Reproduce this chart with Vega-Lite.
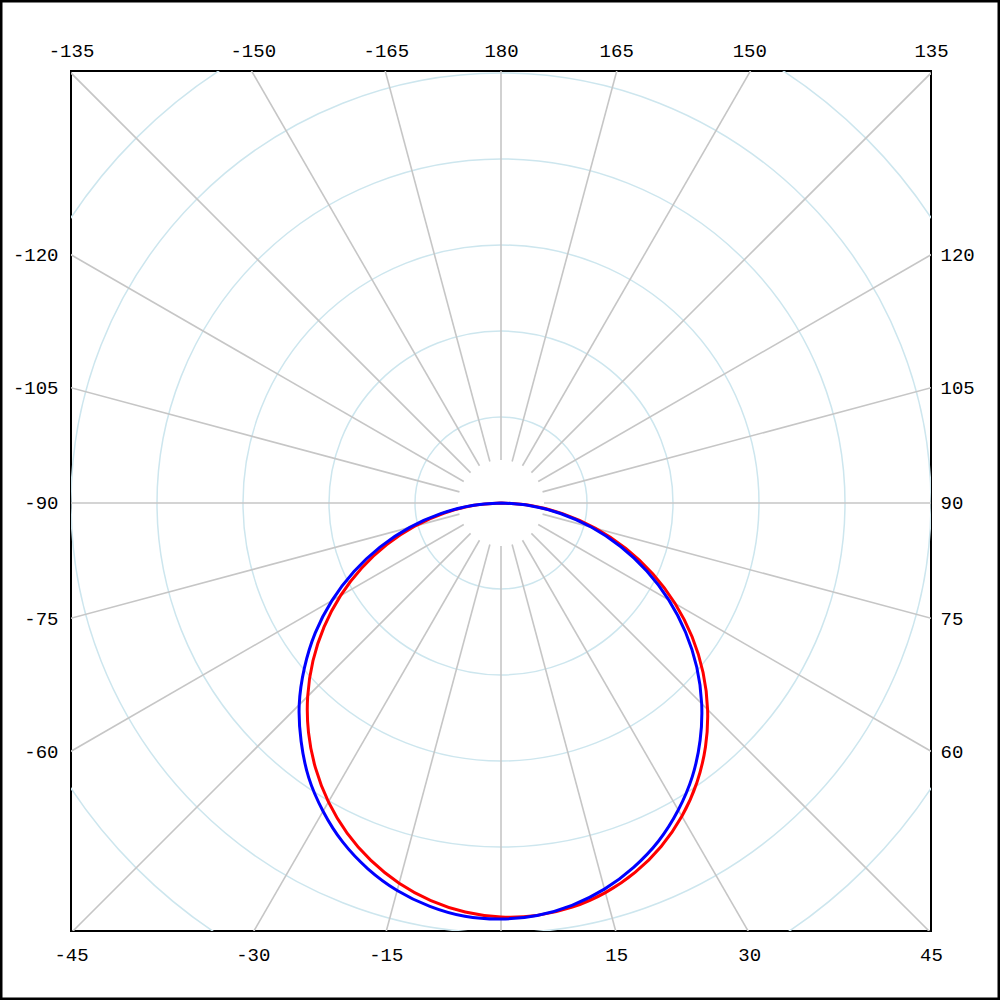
{
  "$schema": "https://vega.github.io/schema/vega-lite/v6.json",
  "width": 860,
  "height": 860,
  "autosize": {"type": "none"},
  "padding": {"left": 71, "top": 71, "right": 69, "bottom": 69},
  "background": "white",
  "config": {
    "view": {"stroke": "black", "strokeWidth": 2},
    "axis": {"ticks": false, "domain": false, "grid": false, "labelFont": "Liberation Mono", "labelFontSize": 19, "labelColor": "black", "labelFlush": false, "labelOverlap": false, "labelBound": false}
  },
  "datasets": {
    "curves": [
      {"series": "red", "angle": -90, "intensity": 0},
      {"series": "red", "angle": -85, "intensity": 15.67},
      {"series": "red", "angle": -80, "intensity": 33.46},
      {"series": "red", "angle": -75, "intensity": 51.96},
      {"series": "red", "angle": -70, "intensity": 70.68},
      {"series": "red", "angle": -65, "intensity": 89.35},
      {"series": "red", "angle": -60, "intensity": 107.72},
      {"series": "red", "angle": -55, "intensity": 125.57},
      {"series": "red", "angle": -50, "intensity": 142.7},
      {"series": "red", "angle": -45, "intensity": 158.94},
      {"series": "red", "angle": -40, "intensity": 174.12},
      {"series": "red", "angle": -35, "intensity": 188.06},
      {"series": "red", "angle": -30, "intensity": 200.65},
      {"series": "red", "angle": -25, "intensity": 211.71},
      {"series": "red", "angle": -20, "intensity": 221.16},
      {"series": "red", "angle": -15, "intensity": 228.86},
      {"series": "red", "angle": -10, "intensity": 234.74},
      {"series": "red", "angle": -5, "intensity": 238.71},
      {"series": "red", "angle": 0, "intensity": 240.7},
      {"series": "red", "angle": 5, "intensity": 240.67},
      {"series": "red", "angle": 10, "intensity": 238.62},
      {"series": "red", "angle": 15, "intensity": 234.52},
      {"series": "red", "angle": 20, "intensity": 228.4},
      {"series": "red", "angle": 25, "intensity": 220.31},
      {"series": "red", "angle": 30, "intensity": 210.31},
      {"series": "red", "angle": 35, "intensity": 198.5},
      {"series": "red", "angle": 40, "intensity": 184.96},
      {"series": "red", "angle": 45, "intensity": 169.86},
      {"series": "red", "angle": 50, "intensity": 153.36},
      {"series": "red", "angle": 55, "intensity": 135.63},
      {"series": "red", "angle": 60, "intensity": 116.86},
      {"series": "red", "angle": 65, "intensity": 97.31},
      {"series": "red", "angle": 70, "intensity": 77.22},
      {"series": "red", "angle": 75, "intensity": 56.9},
      {"series": "red", "angle": 80, "intensity": 36.7},
      {"series": "red", "angle": 85, "intensity": 17.21},
      {"series": "red", "angle": 90, "intensity": 0},
      {"series": "blue", "angle": -90, "intensity": 0},
      {"series": "blue", "angle": -85, "intensity": 16.8},
      {"series": "blue", "angle": -80, "intensity": 35.6},
      {"series": "blue", "angle": -75, "intensity": 55.2},
      {"series": "blue", "angle": -70, "intensity": 74.9},
      {"series": "blue", "angle": -65, "intensity": 94.3},
      {"series": "blue", "angle": -60, "intensity": 113.5},
      {"series": "blue", "angle": -55, "intensity": 131.9},
      {"series": "blue", "angle": -50, "intensity": 149.2},
      {"series": "blue", "angle": -45, "intensity": 165.9},
      {"series": "blue", "angle": -40, "intensity": 180.8},
      {"series": "blue", "angle": -35, "intensity": 194.9},
      {"series": "blue", "angle": -30, "intensity": 206.9},
      {"series": "blue", "angle": -25, "intensity": 217.6},
      {"series": "blue", "angle": -20, "intensity": 226.3},
      {"series": "blue", "angle": -15, "intensity": 233.2},
      {"series": "blue", "angle": -10, "intensity": 238.1},
      {"series": "blue", "angle": -5, "intensity": 241.2},
      {"series": "blue", "angle": 0, "intensity": 241.9},
      {"series": "blue", "angle": 5, "intensity": 240.7},
      {"series": "blue", "angle": 10, "intensity": 237.5},
      {"series": "blue", "angle": 15, "intensity": 232.4},
      {"series": "blue", "angle": 20, "intensity": 225.4},
      {"series": "blue", "angle": 25, "intensity": 216.8},
      {"series": "blue", "angle": 30, "intensity": 206.1},
      {"series": "blue", "angle": 35, "intensity": 194.0},
      {"series": "blue", "angle": 40, "intensity": 180.1},
      {"series": "blue", "angle": 45, "intensity": 165.0},
      {"series": "blue", "angle": 50, "intensity": 148.6},
      {"series": "blue", "angle": 55, "intensity": 131.0},
      {"series": "blue", "angle": 60, "intensity": 112.6},
      {"series": "blue", "angle": 65, "intensity": 93.5},
      {"series": "blue", "angle": 70, "intensity": 74.0},
      {"series": "blue", "angle": 75, "intensity": 54.5},
      {"series": "blue", "angle": 80, "intensity": 35.1},
      {"series": "blue", "angle": 85, "intensity": 16.4},
      {"series": "blue", "angle": 90, "intensity": 0}
    ],
    "rings": [
      {"ring": 50}, {"ring": 100}, {"ring": 150}, {"ring": 200}, {"ring": 250}, {"ring": 300}
    ],
    "spokes": [
      {"angle": -165, "r0": 25, "r1": 400}, {"angle": -150, "r0": 25, "r1": 400}, {"angle": -135, "r0": 25, "r1": 400},
      {"angle": -120, "r0": 25, "r1": 400}, {"angle": -105, "r0": 25, "r1": 400}, {"angle": -90, "r0": 25, "r1": 400},
      {"angle": -75, "r0": 25, "r1": 400}, {"angle": -60, "r0": 25, "r1": 400}, {"angle": -45, "r0": 25, "r1": 400},
      {"angle": -30, "r0": 25, "r1": 400}, {"angle": -15, "r0": 25, "r1": 400}, {"angle": 0, "r0": 25, "r1": 400},
      {"angle": 15, "r0": 25, "r1": 400}, {"angle": 30, "r0": 25, "r1": 400}, {"angle": 45, "r0": 25, "r1": 400},
      {"angle": 60, "r0": 25, "r1": 400}, {"angle": 75, "r0": 25, "r1": 400}, {"angle": 90, "r0": 25, "r1": 400},
      {"angle": 105, "r0": 25, "r1": 400}, {"angle": 120, "r0": 25, "r1": 400}, {"angle": 135, "r0": 25, "r1": 400},
      {"angle": 150, "r0": 25, "r1": 400}, {"angle": 165, "r0": 25, "r1": 400}, {"angle": 180, "r0": 25, "r1": 400}
    ],
    "frame": [{"name": "border"}]
  },
  "layer": [
    {
      "data": {"name": "rings"},
      "mark": {"type": "arc", "theta": 0, "theta2": 6.2832, "filled": false, "stroke": "#cde6ee", "strokeWidth": 1.5, "clip": true},
      "encoding": {
        "x": {"datum": 0, "type": "quantitative", "scale": {"domain": [-250, 250], "nice": false, "zero": false}, "axis": null},
        "y": {"datum": 0, "type": "quantitative", "scale": {"domain": [-248.84, 251.16], "nice": false, "zero": false}, "axis": null},
        "radius": {"field": "ring", "type": "quantitative", "stack": null, "scale": {"type": "linear", "domain": [0, 250], "zero": true}}
      }
    },
    {
      "data": {"name": "spokes"},
      "transform": [
        {"calculate": "datum.r0*sin(datum.angle*PI/180)", "as": "xa"},
        {"calculate": "-datum.r0*cos(datum.angle*PI/180)", "as": "ya"},
        {"calculate": "datum.r1*sin(datum.angle*PI/180)", "as": "xb"},
        {"calculate": "-datum.r1*cos(datum.angle*PI/180)", "as": "yb"}
      ],
      "mark": {"type": "rule", "stroke": "#c6c6c6", "strokeWidth": 1.6, "clip": true},
      "encoding": {
        "x": {"field": "xa", "type": "quantitative", "scale": {"domain": [-250, 250], "nice": false, "zero": false}, "axis": null},
        "y": {"field": "ya", "type": "quantitative", "scale": {"domain": [-248.84, 251.16], "nice": false, "zero": false}, "axis": null},
        "x2": {"field": "xb"},
        "y2": {"field": "yb"}
      }
    },
    {
      "data": {"name": "curves"},
      "transform": [
        {"filter": "datum.series == 'red'"},
        {"calculate": "datum.intensity*sin(datum.angle*PI/180)", "as": "px"},
        {"calculate": "-datum.intensity*cos(datum.angle*PI/180)", "as": "py"}
      ],
      "mark": {"type": "line", "stroke": "#ff0000", "strokeWidth": 3, "interpolate": "catmull-rom"},
      "encoding": {
        "x": {"field": "px", "type": "quantitative", "scale": {"domain": [-250, 250], "nice": false, "zero": false},
          "axis": {"orient": "bottom", "title": null, "values": [-250, -144.34, -66.99, 66.99, 144.34, 250], "labelPadding": 14,
            "labelExpr": "round(atan(datum.value/250)*180/PI)"}},
        "y": {"field": "py", "type": "quantitative", "scale": {"domain": [-248.84, 251.16], "nice": false, "zero": false},
          "axis": {"orient": "left", "title": null, "values": [-144.34, -66.99, 0, 66.99, 144.34], "labelPadding": 13,
            "labelExpr": "-(90 + round(atan(datum.value/250)*180/PI))"}},
        "order": {"field": "angle", "type": "quantitative"}
      }
    },
    {
      "data": {"name": "curves"},
      "transform": [
        {"filter": "datum.series == 'blue'"},
        {"calculate": "datum.intensity*sin(datum.angle*PI/180)", "as": "px"},
        {"calculate": "-datum.intensity*cos(datum.angle*PI/180)", "as": "py"}
      ],
      "mark": {"type": "line", "stroke": "#0000ff", "strokeWidth": 3, "interpolate": "catmull-rom"},
      "encoding": {
        "x": {"field": "px", "type": "quantitative", "scale": {"domain": [-250, 250], "nice": false, "zero": false},
          "axis": {"orient": "top", "title": null, "values": [-250, -144.34, -66.99, 0, 66.99, 144.34, 250], "labelPadding": 11,
            "labelExpr": "datum.value < 0 ? -180 - round(atan(datum.value/250)*180/PI) : 180 - round(atan(datum.value/250)*180/PI)"}},
        "y": {"field": "py", "type": "quantitative", "scale": {"domain": [-248.84, 251.16], "nice": false, "zero": false},
          "axis": {"orient": "right", "title": null, "values": [-144.34, -66.99, 0, 66.99, 144.34], "labelPadding": 9,
            "labelExpr": "90 + round(atan(datum.value/250)*180/PI)"}},
        "order": {"field": "angle", "type": "quantitative"}
      }
    },
    {
      "data": {"name": "frame"},
      "mark": {"type": "rect", "filled": false, "stroke": "black", "strokeWidth": 5, "clip": false},
      "encoding": {
        "x": {"datum": -291.28, "type": "quantitative", "scale": {"domain": [-250, 250], "nice": false, "zero": false}, "axis": null},
        "x2": {"datum": 290.12},
        "y": {"datum": 292.44, "type": "quantitative", "scale": {"domain": [-248.84, 251.16], "nice": false, "zero": false}, "axis": null},
        "y2": {"datum": -288.95}
      }
    }
  ],
  "resolve": {"axis": {"x": "independent", "y": "independent"}}
}
